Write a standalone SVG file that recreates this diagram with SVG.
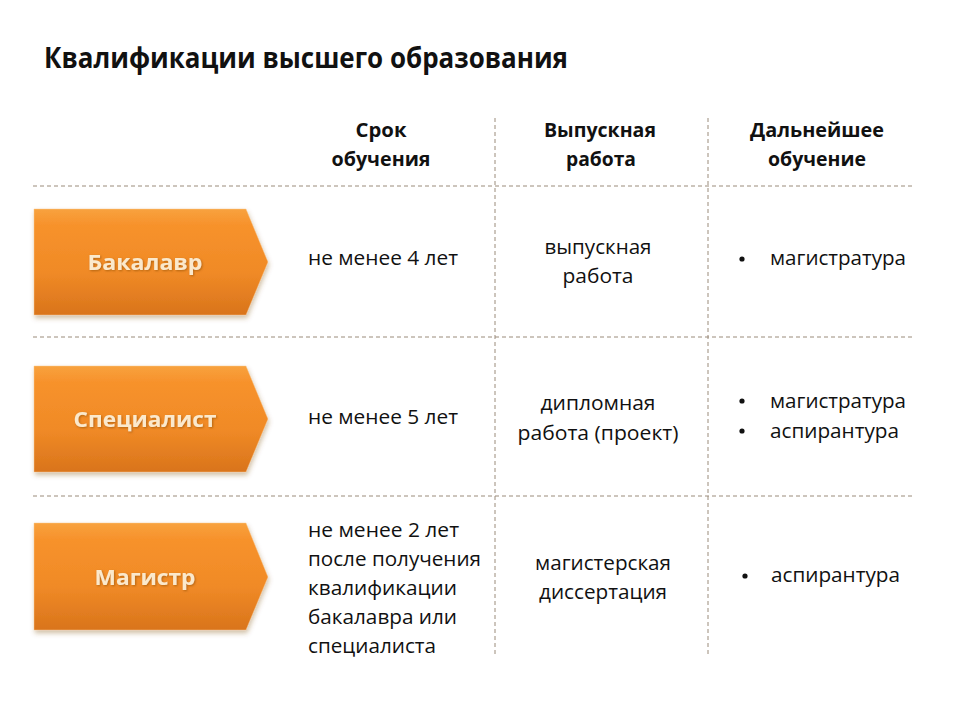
<svg xmlns="http://www.w3.org/2000/svg" width="960" height="720" viewBox="0 0 960 720">
<defs>
<linearGradient id="og" x1="0" y1="0" x2="0" y2="1">
<stop offset="0" stop-color="#f8a23e"/>
<stop offset="0.15" stop-color="#f7922c"/>
<stop offset="0.6" stop-color="#f08a26"/>
<stop offset="1" stop-color="#d9741c"/>
</linearGradient>
<filter id="sh" x="-10%" y="-10%" width="125%" height="130%">
<feGaussianBlur in="SourceAlpha" stdDeviation="2.5"/>
<feOffset dx="1" dy="3" result="b"/>
<feFlood flood-color="#7a4a10" flood-opacity="0.35"/>
<feComposite in2="b" operator="in"/>
<feMerge><feMergeNode/><feMergeNode in="SourceGraphic"/></feMerge>
</filter>
<filter id="tsh" x="-10%" y="-20%" width="120%" height="150%">
<feGaussianBlur in="SourceAlpha" stdDeviation="1"/>
<feOffset dx="1" dy="1" result="b"/>
<feFlood flood-color="#8a4a00" flood-opacity="0.6"/>
<feComposite in2="b" operator="in"/>
<feMerge><feMergeNode/><feMergeNode in="SourceGraphic"/></feMerge>
</filter>
</defs>
<style>
text{font-family:"Open Sans","Liberation Sans",sans-serif;fill:#111}
.t{font-size:28px;font-weight:bold}
.h{font-size:19px;font-weight:bold;text-anchor:middle}
.b{font-size:20px}
.c{text-anchor:middle}
.lbl{font-size:22px;font-weight:bold;fill:#fbe9cc;text-anchor:middle}
.d{stroke:#9a8b7a;stroke-width:1;stroke-dasharray:4 3;fill:none}
.arrow{fill:url(#og);filter:url(#sh);stroke:#fbc98e;stroke-width:0.8;stroke-opacity:0.6}
</style>
<rect width="960" height="720" fill="#ffffff"/>
<text class="t" x="44" y="68" textLength="524" lengthAdjust="spacingAndGlyphs">Квалификации высшего образования</text>

<g id="grid">
<line class="d" x1="33" y1="186" x2="912" y2="186"/>
<line class="d" x1="33" y1="337" x2="912" y2="337"/>
<line class="d" x1="33" y1="496" x2="912" y2="496"/>
<line class="d" x1="495" y1="118" x2="495" y2="656"/>
<line class="d" x1="708" y1="118" x2="708" y2="656"/>
</g>

<g id="headers">
<text class="h" x="381" y="137" textLength="51" lengthAdjust="spacingAndGlyphs">Срок</text>
<text class="h" x="381" y="166" textLength="99" lengthAdjust="spacingAndGlyphs">обучения</text>
<text class="h" x="600" y="137" textLength="112" lengthAdjust="spacingAndGlyphs">Выпускная</text>
<text class="h" x="601" y="166" textLength="70" lengthAdjust="spacingAndGlyphs">работа</text>
<text class="h" x="817" y="137" textLength="134" lengthAdjust="spacingAndGlyphs">Дальнейшее</text>
<text class="h" x="817" y="166" textLength="98" lengthAdjust="spacingAndGlyphs">обучение</text>
</g>

<g id="bachelor">
<polygon class="arrow" points="34,209 246,209 268,262 246,315 34,315"/>
<text class="lbl" x="145" y="270" filter="url(#tsh)" textLength="115" lengthAdjust="spacingAndGlyphs">Бакалавр</text>
<text class="b" x="308" y="265" textLength="150" lengthAdjust="spacingAndGlyphs">не менее 4 лет</text>
<text class="b c" x="598" y="254" textLength="107" lengthAdjust="spacingAndGlyphs">выпускная</text>
<text class="b c" x="598" y="283" textLength="71" lengthAdjust="spacingAndGlyphs">работа</text>
<circle cx="742" cy="259" r="2.6" fill="#111"/>
<text class="b" x="770" y="265" textLength="136" lengthAdjust="spacingAndGlyphs">магистратура</text>
</g>

<g id="specialist">
<polygon class="arrow" points="34,366 246,366 268,419 246,472 34,472"/>
<text class="lbl" x="145" y="427" filter="url(#tsh)" textLength="143" lengthAdjust="spacingAndGlyphs">Специалист</text>
<text class="b" x="308" y="424" textLength="150" lengthAdjust="spacingAndGlyphs">не менее 5 лет</text>
<text class="b c" x="598" y="410" textLength="115" lengthAdjust="spacingAndGlyphs">дипломная</text>
<text class="b c" x="598" y="440" textLength="161" lengthAdjust="spacingAndGlyphs">работа (проект)</text>
<circle cx="742" cy="401" r="2.6" fill="#111"/>
<text class="b" x="770" y="408" textLength="136" lengthAdjust="spacingAndGlyphs">магистратура</text>
<circle cx="742" cy="431" r="2.6" fill="#111"/>
<text class="b" x="770" y="438" textLength="129" lengthAdjust="spacingAndGlyphs">аспирантура</text>
</g>

<g id="master">
<polygon class="arrow" points="34,523 246,523 268,577 246,630 34,630"/>
<text class="lbl" x="145" y="585" filter="url(#tsh)" textLength="101" lengthAdjust="spacingAndGlyphs">Магистр</text>
<text class="b" x="308" y="537" textLength="151" lengthAdjust="spacingAndGlyphs">не менее 2 лет</text>
<text class="b" x="308" y="566" textLength="173" lengthAdjust="spacingAndGlyphs">после получения</text>
<text class="b" x="308" y="595" textLength="149" lengthAdjust="spacingAndGlyphs">квалификации</text>
<text class="b" x="308" y="624" textLength="149" lengthAdjust="spacingAndGlyphs">бакалавра или</text>
<text class="b" x="308" y="653" textLength="128" lengthAdjust="spacingAndGlyphs">специалиста</text>
<text class="b c" x="603" y="570" textLength="136" lengthAdjust="spacingAndGlyphs">магистерская</text>
<text class="b c" x="603" y="599" textLength="128" lengthAdjust="spacingAndGlyphs">диссертация</text>
<circle cx="745" cy="576" r="2.6" fill="#111"/>
<text class="b" x="771" y="582" textLength="129" lengthAdjust="spacingAndGlyphs">аспирантура</text>
</g>
</svg>
